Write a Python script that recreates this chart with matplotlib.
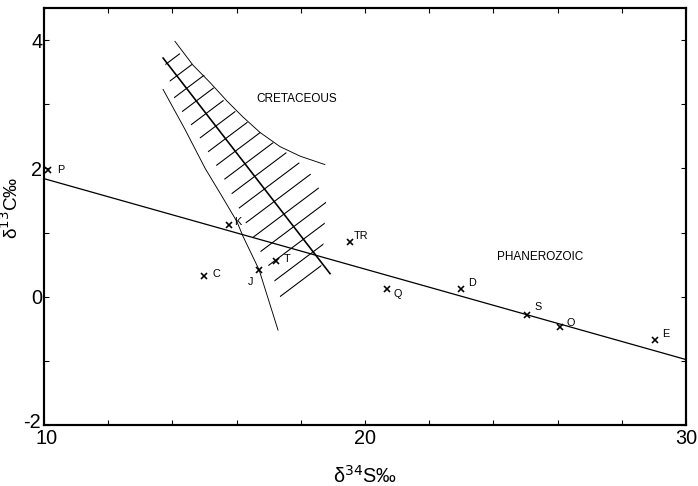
import matplotlib
matplotlib.use("Agg")
import matplotlib.pyplot as plt
import matplotlib.transforms as mtransforms
import numpy as np
from matplotlib.patches import Polygon
from matplotlib.ticker import MultipleLocator, FixedLocator

plt.rcParams['font.family'] = ['Liberation Sans', 'DejaVu Sans']
plt.rcParams['axes.unicode_minus'] = False

# period points (delta34S, delta13C)
names = ["P", "K", "C", "J", "T", "TR", "Q", "D", "S", "O", "E"]
s34 = [10.12, 15.76, 14.98, 16.70, 17.23, 19.53, 20.69, 22.99, 25.05, 26.07, 29.03]
c13 = [1.98, 1.11, 0.33, 0.42, 0.56, 0.86, 0.125, 0.125, -0.28, -0.47, -0.67]

# phanerozoic trend
phan_x = [10, 30]
phan_y = [1.84, -0.98]

# cretaceous trend and envelope
cret_x = [13.71, 18.91]
cret_y = [3.72, 0.36]
left_x = [13.71, 14.39, 15.02, 15.55, 16.01, 16.20, 16.70, 17.29]
left_y = [3.23, 2.61, 2.00, 1.56, 1.17, 0.94, 0.42, -0.52]
upper_x = [14.08, 14.64, 15.17, 15.70, 16.20, 16.73, 17.35, 17.98, 18.75]
upper_y = [3.98, 3.61, 3.34, 3.05, 2.80, 2.56, 2.34, 2.19, 2.06]

# hatched band outline
band_x = [13.74, 14.08, 14.86, 15.61, 16.04, 16.48, 17.04, 17.41, 18.60, 18.69,
          18.79, 18.35, 17.91, 17.04, 16.26, 15.55, 15.02, 14.21]
band_y = [3.70, 3.05, 2.47, 1.84, 1.41, 0.94, 0.44, -0.08, 0.30, 0.70,
          1.48, 1.89, 2.11, 2.44, 2.75, 3.08, 3.44, 3.80]

# label offsets in points
offs = {"P": (7, 0), "K": (5, 2), "C": (7, 1), "J": (-5, -7), "T": (6, 1),
        "TR": (6, 3), "Q": (6, -3), "D": (6, 3), "S": (6, 4), "O": (6, 2), "E": (6, 3)}

fig = plt.figure(figsize=(698 / 130, 486 / 130), dpi=130)
ax = fig.add_axes([44 / 698, 1 - 425 / 486, 642 / 698, 417 / 486])

ax.plot(phan_x, phan_y, color="black", lw=0.7)
ax.plot(cret_x, cret_y, color="black", lw=0.9)
ax.plot(left_x, left_y, color="black", lw=0.5)
ax.plot(upper_x, upper_y, color="black", lw=0.5)

band = Polygon(np.column_stack([band_x, band_y]), closed=True, fill=False, lw=0, edgecolor="none")
ax.add_patch(band)
hx = np.array([12.0, 20.0])
for c in np.arange(-3.113 - 0.31 * 15, -3.113 + 0.31 * 15, 0.31):
    ln, = ax.plot(hx, 0.376 * hx + c, color="black", lw=0.6)
    ln.set_clip_path(band)

ax.plot(s34, c13, "x", color="black", ms=3, mew=0.9)
for n, x, y in zip(names, s34, c13):
    ax.annotate(n, (x, y), xytext=offs[n], textcoords="offset points",
                fontsize=6, ha="center", va="center")

ax.text(17.88, 3.08, "CRETACEOUS", fontsize=6.5, ha="center", va="center")
ax.text(25.45, 0.62, "PHANEROZOIC", fontsize=6.5, ha="center", va="center")

ax.set_xlim(10, 30)
ax.set_ylim(-2, 4.5)
ax.xaxis.set_major_locator(FixedLocator([10, 20, 30]))
ax.xaxis.set_minor_locator(MultipleLocator(2))
ax.yaxis.set_major_locator(FixedLocator([-2, 0, 2, 4]))
ax.yaxis.set_minor_locator(MultipleLocator(1))
ax.tick_params(which="both", direction="in", top=True, right=True, length=3, width=0.6)
ax.tick_params(which="major", labelsize=11, pad=2)
ax.tick_params(axis="y", which="major", pad=1)
for sp in ax.spines.values():
    sp.set_linewidth(1.2)

# nudge the corner labels apart
fig.canvas.draw()
xl = ax.get_xticklabels()[0]
xl.set_transform(xl.get_transform() + mtransforms.ScaledTranslation(3 / 130, 0, fig.dpi_scale_trans))
yl = ax.get_yticklabels()[0]
yl.set_transform(yl.get_transform() + mtransforms.ScaledTranslation(-1 / 130, 4 / 130, fig.dpi_scale_trans))

ax.set_xlabel("δ$^{34}$S‰", fontsize=11)
ax.set_ylabel("δ$^{13}$C‰", fontsize=10.5)
ax.xaxis.set_label_coords(0.5, -0.095)
ax.yaxis.set_label_coords(-0.035, 0.52)

fig.savefig("out.png", dpi=130)
